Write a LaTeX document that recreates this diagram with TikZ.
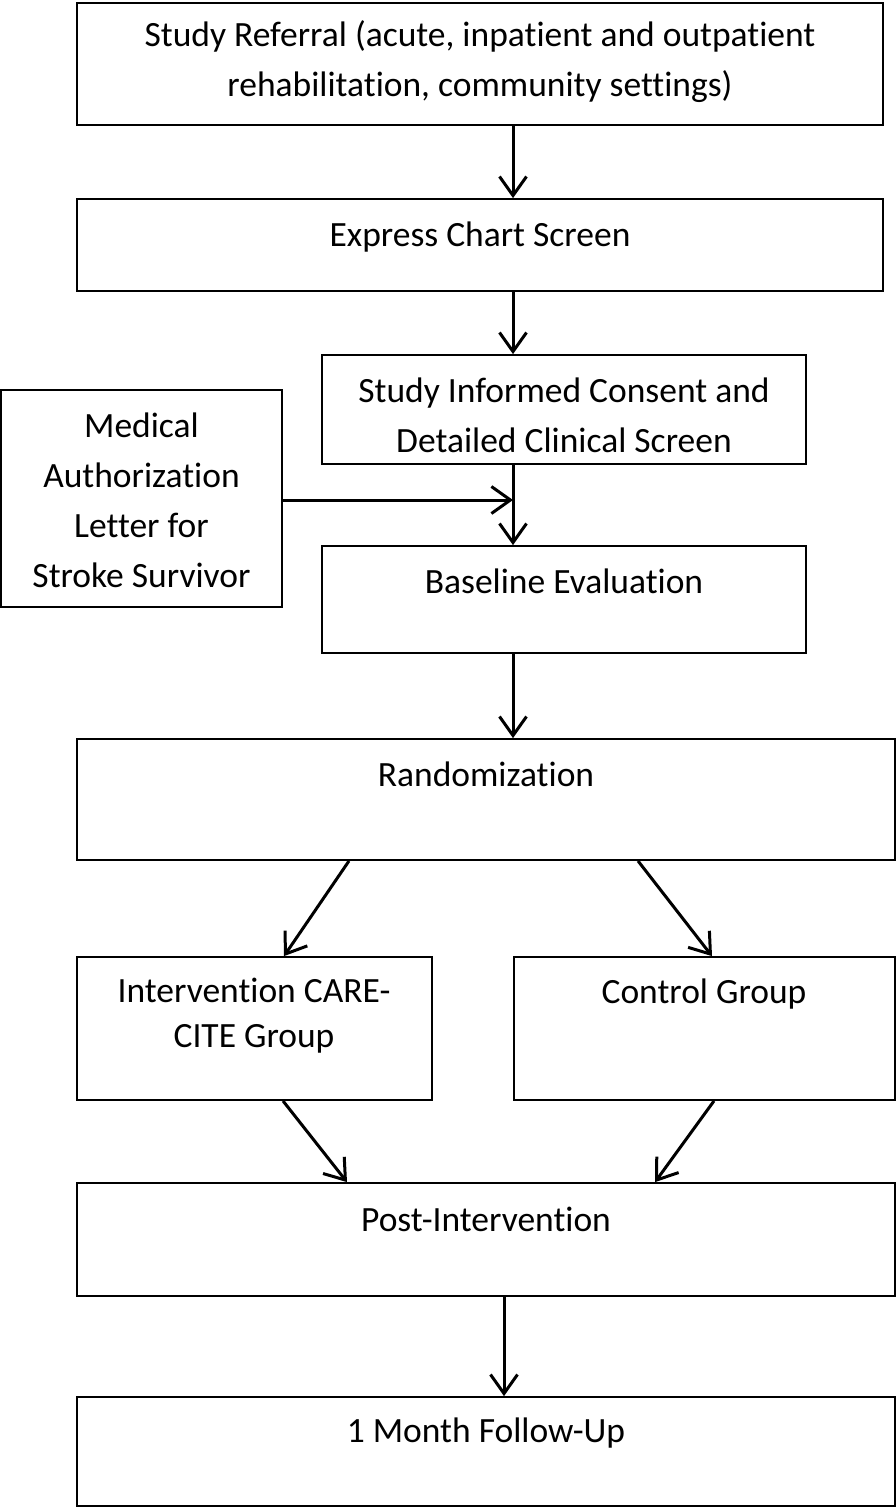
\documentclass[tikz,border=0pt]{standalone}
\usepackage{fontspec}
\setmainfont{Carlito}[Ligatures=NoCommon]
\usetikzlibrary{arrows.meta}
\begin{document}
\begin{tikzpicture}[
        x=1pt, y=-1pt,
        every node/.style={font=\fontsize{35.5}{50}\selectfont},
        box/.style={draw, line width=1.8pt, rectangle, inner sep=0pt},
        txt/.style={align=center, inner sep=0pt},
        arr/.style={line width=3pt, -{Straight Barb[length=19pt, width=27pt]}}
    ]
        \useasboundingbox (0,0) rectangle (896,1508);
        % Kästen
        \node [box, minimum width=806, minimum height=122] (ref) at (480,64) {};
        \node [box, minimum width=806, minimum height=92] (exp) at (480,245) {};
        \node [box, minimum width=484, minimum height=109] (cons) at (564,409.5) {};
        \node [box, minimum width=281, minimum height=217] (med) at (141.5,498.5) {};
        \node [box, minimum width=484, minimum height=107] (base) at (564,599.5) {};
        \node [box, minimum width=818, minimum height=121] (rand) at (486,799.5) {};
        \node [box, minimum width=355, minimum height=143] (intv) at (254.5,1028.5) {};
        \node [box, minimum width=381, minimum height=143] (ctrl) at (704.5,1028.5) {};
        \node [box, minimum width=818, minimum height=113] (post) at (486,1239.5) {};
        \node [box, minimum width=818, minimum height=109] (fu) at (486,1451.5) {};

        % Texte
        \node [txt] (refT) at (480,62) {Study Referral (acute, inpatient and outpatient\\rehabilitation, community settings)};
        \node [txt] (expT) at (480,237) {Express Chart Screen};
        \node [txt] (consT) at (564,415) {Study Informed Consent and\\Detailed Clinical Screen};
        \node [txt] (medT) at (141.5,500) {Medical\\Authorization\\Letter for\\Stroke Survivor};
        \node [txt] (baseT) at (564,581) {Baseline Evaluation};
        \node [txt] (randT) at (486,774) {Randomization};
        \node [txt, font=\fontsize{35.5}{45}\selectfont] (intvT) at (254,1016) {Intervention CARE-\\CITE Group};
        \node [txt] (ctrlT) at (704,994) {Control Group};
        \node [txt] (postT) at (486,1219) {Post-Intervention};
        \node [txt] (fuT) at (486,1433) {1 Month Follow-Up};

        % Hilfspunkte
        \coordinate (m) at (513,500);
        \coordinate (r1) at (349,0);
        \coordinate (r2) at (638,0);
        \coordinate (i1) at (284,0);
        \coordinate (c1) at (712,0);
        \coordinate (i2) at (283,0);
        \coordinate (c2) at (714,0);
        \coordinate (p1) at (347,0);
        \coordinate (p2) at (655,0);
        \coordinate (f) at (504,0);

        % Pfeile
        \draw[arr] (ref.south -| m) -- (exp.north -| m);
        \draw[arr] (exp.south -| m) -- (cons.north -| m);
        \draw[arr] (cons.south -| m) -- (base.north -| m);
        \draw[arr] (med.east |- m) -- (m);
        \draw[arr] (base.south -| m) -- (rand.north -| m);
        \draw[arr] (rand.south -| r1) -- (intv.north -| i1);
        \draw[arr] (rand.south -| r2) -- (ctrl.north -| c1);
        \draw[arr] (intv.south -| i2) -- (post.north -| p1);
        \draw[arr] (ctrl.south -| c2) -- (post.north -| p2);
        \draw[arr] (post.south -| f) -- (fu.north -| f);
    \end{tikzpicture}
\end{document}
